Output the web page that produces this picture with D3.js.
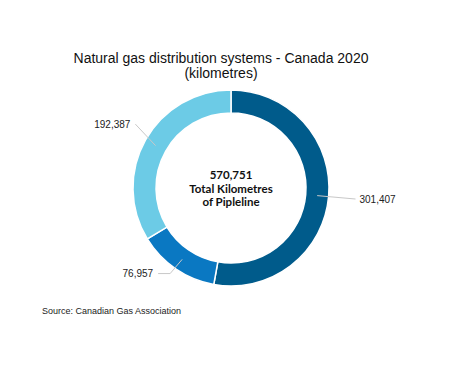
<!DOCTYPE html>
<html>
<head>
<meta charset="utf-8">
<script src="https://cdn.jsdelivr.net/npm/d3@7"></script>
<style>
  body { margin: 0; background: #fff; }
  svg text { font-family: "Liberation Sans", Arial, sans-serif; }
</style>
</head>
<body>
<div class="chart"></div>
<script>
// data
var segments = ['Segment A', 'Segment B', 'Segment C'];
var values = [301407, 76957, 192387];
var colors = ['#005b8b', '#0a78c2', '#6ccbe6'];
var totalLabel = ['570,751', 'Total Kilometres', 'of Pipleline'];
var titleLines = ['Natural gas distribution systems - Canada 2020', '(kilometres)'];
var sourceText = 'Source: Canadian Gas Association';

// layout
var svgWidth = 474, svgHeight = 366;
var cx = 231, cy = 188;
var outerR = 98, innerR = 75;
var leaderR = [125, 105, 115];      // where each leader line ends
var leaderShift = [0, 0.018, 0.077]; // small angle nudge, radians
var tailLen = [0, 12, 0];

var svg = d3.select('div.chart')
    .append('svg')
    .attr('width', svgWidth)
    .attr('height', svgHeight);

svg.append('text')
    .attr('text-anchor', 'middle')
    .style('font-size', '14px')
    .style('fill', '#111')
    .selectAll('tspan')
    .data(titleLines)
    .enter()
    .append('tspan')
    .attr('x', 221)
    .attr('y', function (d, i) { return 63 + i * 15; })
    .text(function (d) { return d; });

var pie = d3.pie().sort(null).value(function (d) { return d; });
var arcs = pie(values);

var arc = d3.arc().innerRadius(innerR).outerRadius(outerR);

var chart = svg.append('g')
    .attr('transform', 'translate(' + cx + ',' + cy + ')');

chart.selectAll('path.slice')
    .data(arcs)
    .enter()
    .append('path')
    .attr('class', 'slice')
    .attr('d', arc)
    .style('fill', function (d, i) { return colors[i]; })
    .style('stroke', '#fff')
    .style('stroke-width', 1.5);

// leader lines + labels
function pointAt(angle, r) {
    return [Math.sin(angle) * r, -Math.cos(angle) * r];
}

arcs.forEach(function (d, i) {
    var mid = (d.startAngle + d.endAngle) / 2;
    var p0 = pointAt(mid, (innerR + outerR) / 2);
    var p1 = pointAt(mid + leaderShift[i], leaderR[i]);
    var right = p1[0] > 0;
    var p2 = [p1[0] + (right ? tailLen[i] : -tailLen[i]), p1[1]];

    chart.append('polyline')
        .attr('points', [p0, p1, p2].map(function (p) { return p.join(','); }).join(' '))
        .style('fill', 'none')
        .style('stroke', '#c8c8c8')
        .style('stroke-width', 1);

    chart.append('text')
        .attr('x', p2[0] + (right ? 4 : -5))
        .attr('y', p2[1])
        .attr('dy', '0.35em')
        .attr('text-anchor', right ? 'start' : 'end')
        .style('font-size', '10px')
        .style('fill', '#222')
        .text(d3.format(',')(values[i]));
});

chart.append('text')
    .attr('text-anchor', 'middle')
    .style('font-family', 'Lato, "Open Sans", sans-serif')
    .style('font-weight', 'bold')
    .style('font-size', '11.5px')
    .style('fill', '#111')
    .selectAll('tspan')
    .data(totalLabel)
    .enter()
    .append('tspan')
    .attr('x', 0)
    .attr('y', function (d, i) { return -9 + i * 13.5; })
    .text(function (d) { return d; });

svg.append('text')
    .attr('x', 42)
    .attr('y', 314)
    .style('font-size', '9px')
    .style('fill', '#222')
    .text(sourceText);
</script>
</body>
</html>
